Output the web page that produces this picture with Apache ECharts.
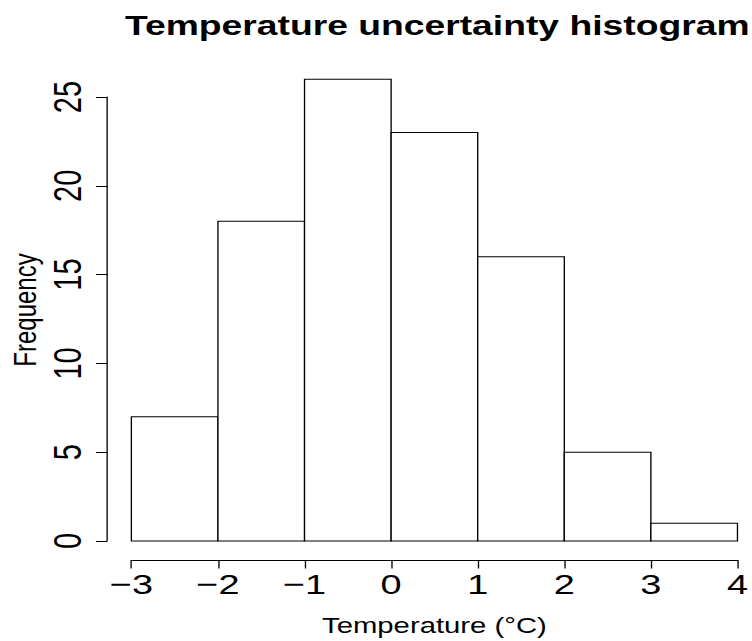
<!DOCTYPE html>
<html>
<head>
<meta charset="utf-8">
<script src="https://cdn.jsdelivr.net/npm/echarts@6/dist/echarts.min.js"></script>
<style>
html,body{margin:0;padding:0;width:752px;height:641px;overflow:hidden;background:#fff;}
#wrap{width:565px;height:641px;transform:scaleX(1.331);transform-origin:0 0;}
</style>
</head>
<body>
<div id="wrap"></div>
<script>
// Histogram data (bin edges and counts)
const binStart = [-3, -2, -1, 0, 1, 2, 3];
const binEnd   = [-2, -1, 0, 1, 2, 3, 4];
const counts   = [7, 18, 26, 23, 16, 5, 1];
const xTicks = [-3, -2, -1, 0, 1, 2, 3, 4];
const yTicks = [0, 5, 10, 15, 20, 25];
const titleText = 'Temperature uncertainty histogram';
const xTitle = 'Temperature (°C)';
const yTitle = 'Frequency';

const FONT = "'Liberation Sans', Arial, Helvetica, sans-serif";
const data = binStart.map((s, i) => [s, binEnd[i], counts[i]]);
const fmt = v => String(v).replace('-', '\u2212');

const chart = echarts.init(document.getElementById('wrap'), null, {renderer: 'svg'});
chart.setOption({
  animation: false,
  backgroundColor: '#fff',
  title: {
    text: titleText,
    left: 323.5,
    top: 6,
    textAlign: 'center',
    textStyle: {fontFamily: FONT, fontSize: 28, fontWeight: 'bold', color: '#000'}
  },
  grid: {left: 98.7, right: 9.4, top: 97, bottom: 98.3, containLabel: false},
  xAxis: {
    type: 'value',
    min: xTicks[0], max: xTicks[xTicks.length - 1], interval: 1,
    offset: 19,
    axisLine: {show: true, onZero: false, lineStyle: {color: '#000', width: 1}},
    axisTick: {show: true, length: 8.5, lineStyle: {color: '#000', width: 1}},
    splitLine: {show: false},
    axisLabel: {color: '#000', fontFamily: FONT, fontSize: 28.5, margin: 10, formatter: fmt},
    name: xTitle,
    nameLocation: 'middle',
    nameGap: 54,
    nameTextStyle: {color: '#000', fontFamily: FONT, fontSize: 22}
  },
  yAxis: {
    type: 'value',
    min: yTicks[0], max: yTicks[yTicks.length - 1], interval: 5,
    offset: 18.3,
    axisLine: {show: true, onZero: false, lineStyle: {color: '#000', width: 1}},
    axisTick: {show: true, length: 8.3, lineStyle: {color: '#000', width: 1}},
    splitLine: {show: false},
    axisLabel: {color: '#000', fontFamily: FONT, fontSize: 29, margin: 15.5, rotate: 90, formatter: fmt}
  },
  graphic: [{
    type: 'text',
    x: 18.8, y: 310,
    rotation: Math.PI / 2,
    style: {text: yTitle, fontFamily: FONT, fontSize: 24, fill: '#000', textAlign: 'center', textVerticalAlign: 'middle'}
  }],
  series: [{
    type: 'custom',
    clip: false,
    data: data,
    encode: {x: [0, 1], y: 2},
    renderItem: function (params, api) {
      const p0 = api.coord([api.value(0), 0]);
      const p1 = api.coord([api.value(1), api.value(2)]);
      return {
        type: 'rect',
        shape: {x: p0[0], y: p1[1], width: p1[0] - p0[0], height: p0[1] - p1[1]},
        style: {fill: '#fff', stroke: '#000', lineWidth: 1}
      };
    }
  }]
});
</script>
</body>
</html>
